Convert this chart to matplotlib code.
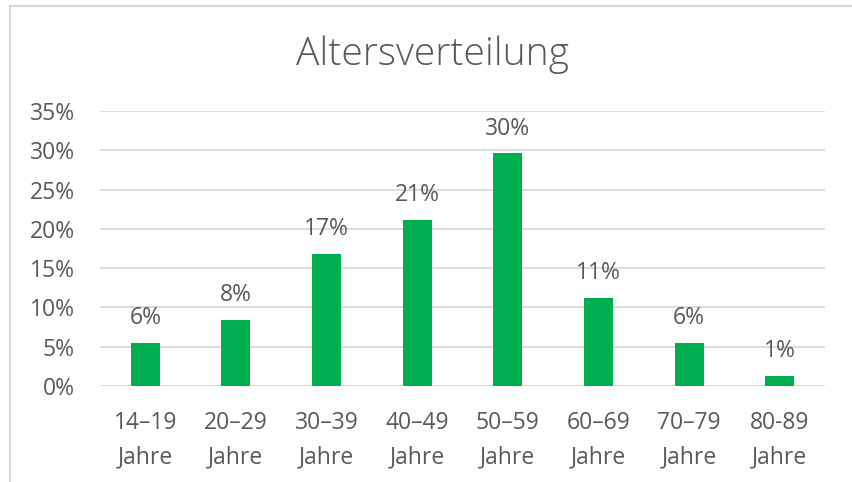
import matplotlib.pyplot as plt
from matplotlib.lines import Line2D

plt.rcParams['font.family'] = ['Open Sans', 'DejaVu Sans']

# data
age_groups = ['14–19\nJahre', '20–29\nJahre', '30–39\nJahre', '40–49\nJahre',
              '50–59\nJahre', '60–69\nJahre', '70–79\nJahre', '80-89\nJahre']
shares = [5.5, 8.4, 16.8, 21.1, 29.6, 11.2, 5.5, 1.3]
labels = ['6%', '8%', '17%', '21%', '30%', '11%', '6%', '1%']
yticks = [0, 5, 10, 15, 20, 25, 30, 35]

text_col = '#595959'
grid_col = '#d9d9d9'

fig = plt.figure(figsize=(8.52, 4.82), dpi=100)
ax = fig.add_axes([100 / 852, 96 / 482, 725 / 852, 275 / 482])

x = range(len(shares))
ax.bar(x, shares, width=0.32, color='#00b050', zorder=3)
for xi, v, lab in zip(x, shares, labels):
    ax.annotate(lab, (xi, v), xytext=(0, 13.5), textcoords='offset points',
                ha='center', va='baseline', fontsize=16.5, color=text_col)

ax.set_xlim(-0.5, len(shares) - 0.5)
ax.set_ylim(0, 35)
ax.set_yticks(yticks)
ax.set_yticklabels([f'{t}%' for t in yticks])
ax.set_xticks(list(x))
ax.set_xticklabels(age_groups, linespacing=1.6)
ax.tick_params(axis='both', length=0, labelsize=16.5, colors=text_col)
ax.tick_params(axis='y', pad=18)
ax.tick_params(axis='x', pad=18)
ax.grid(axis='y', color=grid_col, linewidth=1.3, zorder=0)
for s in ax.spines.values():
    s.set_visible(False)

fig.text(432 / 852, 1 - 55 / 482, 'Altersverteilung', ha='center', va='center',
         fontsize=28, color=text_col, fontweight='light')

# outer chart frame (top and left edges visible)
fig.add_artist(Line2D([10 / 852, 1], [1 - 6 / 482, 1 - 6 / 482], color=grid_col, lw=1.5))
fig.add_artist(Line2D([10 / 852, 10 / 852], [0, 1 - 6 / 482], color=grid_col, lw=1.5))

fig.savefig('out.png', dpi=100)
